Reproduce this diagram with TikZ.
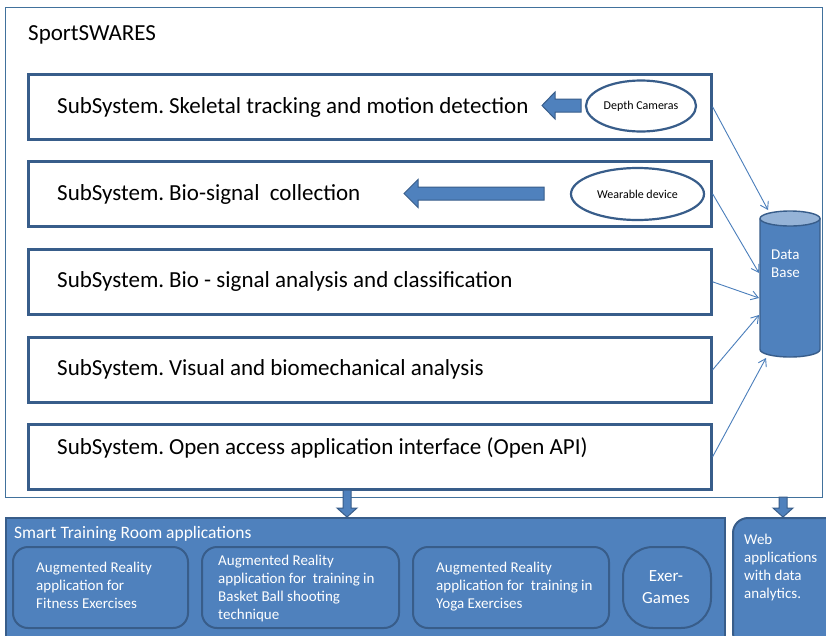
\documentclass[tikz,border=0pt]{standalone}
\usepackage{fontspec}
\setmainfont{Carlito}
\usetikzlibrary{arrows.meta,calc,shapes.geometric}
\definecolor{blu}{HTML}{4F81BD}
\definecolor{dblu}{HTML}{385D8A}
\definecolor{lblu}{HTML}{95B3D7}
\definecolor{frm}{HTML}{41719C}
\definecolor{lineblu}{HTML}{4A7EBB}
\begin{document}
\begin{tikzpicture}[x=1pt,y=-1pt,
  subbox/.style={draw=dblu, line width=2.6pt, minimum width=683pt, minimum height=65pt, anchor=north west, inner sep=0pt},
  subtext/.style={anchor=base west, inner sep=0pt, font=\fontsize{23}{27}\selectfont},
  devell/.style={draw=dblu, line width=2.2pt, ellipse, inner sep=0pt, font=\fontsize{12}{14}\selectfont},
  blockarrow/.style={fill=blu, draw=dblu, line width=1pt},
  thinarrow/.style={draw=lineblu, line width=0.9pt, -{Straight Barb[length=7pt,width=9pt]}},
  appbox/.style={draw=dblu, line width=2pt, fill=blu, rounded corners=15pt, anchor=north west, inner sep=0pt},
  apptext/.style={anchor=base west, inner sep=0pt, text=white, align=left, font=\fontsize{15}{17.8}\selectfont},
]
\useasboundingbox (0,0) rectangle (826,635);
\fill[white] (0,0) rectangle (826,635);

% outer frame
\node[draw=frm, line width=1.4pt, minimum width=817pt, minimum height=490pt, anchor=north west, inner sep=0pt] (outer) at (5,7) {};
\node[subtext] (title) at (28,40) {SportSWARES};

% subsystems
\node[subbox] (s1) at (27,73) {};
\node[subbox] (s2) at (27,160) {};
\node[subbox] (s3) at (27,248) {};
\node[subbox] (s4) at (27,336) {};
\node[subbox] (s5) at (27,423) {};
\node[subtext] (t1) at (57,113) {SubSystem.\hspace{-2pt} Skeletal tracking and motion detection};
\node[subtext] (t2) at (57,200) {SubSystem.\hspace{-2pt} Bio-signal\ \ collection};
\node[subtext] (t3) at (57,287) {SubSystem.\hspace{-2pt} Bio - signal analysis and classification};
\node[subtext] (t4) at (57,375) {SubSystem.\hspace{-2pt} Visual and biomechanical analysis};
\node[subtext] (t5) at (57,454) {SubSystem.\hspace{-2pt} Open access application interface (Open API)};

% devices
\node[devell, minimum width=110pt, minimum height=51pt] (cam) at (641,106) {Depth Cameras};
\node[devell, minimum width=133pt, minimum height=52pt] (wear) at (637.5,194) {Wearable device};

% block arrows (horizontal)
\draw[blockarrow] (581,99) -- (555,99) -- (555,92) -- (542,105.5) -- (555,119) -- (555,112) -- (581,112) -- cycle;
\draw[blockarrow] (544,187) -- (418,187) -- (418,179.5) -- (404,193.5) -- (418,207.5) -- (418,200) -- (544,200) -- cycle;

% database
\node[minimum width=60pt, minimum height=146pt, anchor=north west, inner sep=0pt] (db) at (760,211) {};
\draw[fill=blu, draw=dblu, line width=1.4pt] (760,218.5) -- (760,349.5) arc[start angle=180, end angle=360, x radius=30pt, y radius=7.5pt] -- (820,218.5);
\draw[fill=lblu, draw=dblu, line width=1.4pt] (790,218.5) ellipse[x radius=30pt, y radius=7.5pt];
\node[anchor=base west, inner sep=0pt, text=white, font=\fontsize{15}{18}\selectfont] (dbt1) at (771,259) {Data};
\node[anchor=base west, inner sep=0pt, text=white, font=\fontsize{15}{18}\selectfont] (dbt2) at (771,277) {Base};

% thin arrows to database
\coordinate (e1) at (768,210);
\coordinate (e2) at (759,273);
\coordinate (e3) at (759,298);
\coordinate (e4) at (759,315);
\coordinate (e5) at (766,358);
\draw[thinarrow] (s1.east) -- (e1);
\draw[thinarrow] (s2.east) -- (e2);
\draw[thinarrow] (s3.east) -- (e3);
\draw[thinarrow] (s4.east) -- (e4);
\draw[thinarrow] (s5.east) -- (e5);

% bottom panel
\node[draw=dblu, line width=2pt, fill=blu, minimum width=719pt, minimum height=125pt, anchor=north west, inner sep=0pt] (smart) at (5,517) {};
\node[anchor=base west, inner sep=0pt, text=white, font=\fontsize{17.5}{21}\selectfont] (smartt) at (14,538) {Smart Training Room applications};
\node[appbox, minimum width=175pt, minimum height=81pt] (a1) at (12,546) {};
\node[appbox, minimum width=197pt, minimum height=81pt] (a2) at (201,546) {};
\node[appbox, minimum width=196pt, minimum height=81pt] (a3) at (412,546) {};
\node[appbox, rounded corners=30pt, minimum width=88pt, minimum height=81pt] (a4) at (622,546) {};
\node[appbox, minimum width=110pt, minimum height=130pt] (web) at (732,517) {};

\node[apptext] (a1t) at (36,608) {Augmented Reality\\application for\\Fitness Exercises};
\node[apptext] (a2t) at (218,619) {Augmented Reality\\application for\ \ training in\\Basket Ball shooting\\technique};
\node[apptext] (a3t) at (436,608) {Augmented Reality\\application for\ \ training in\\Yoga Exercises};
\node[anchor=base, inner sep=0pt, text=white, align=center, font=\fontsize{17}{22}\selectfont] (a4t) at (666,603) {Exer-\\Games};
\node[apptext] (webt) at (744,598) {Web\\applications\\with data\\analytics.};

% block arrows (down)
\draw[blockarrow] (343,490) -- (343,508) -- (337,508) -- (347,517) -- (357,508) -- (351,508) -- (351,490) -- cycle;
\draw[blockarrow] (779,497) -- (779,508) -- (773,508) -- (783,517) -- (793,508) -- (787,508) -- (787,497) -- cycle;
\end{tikzpicture}
\end{document}
